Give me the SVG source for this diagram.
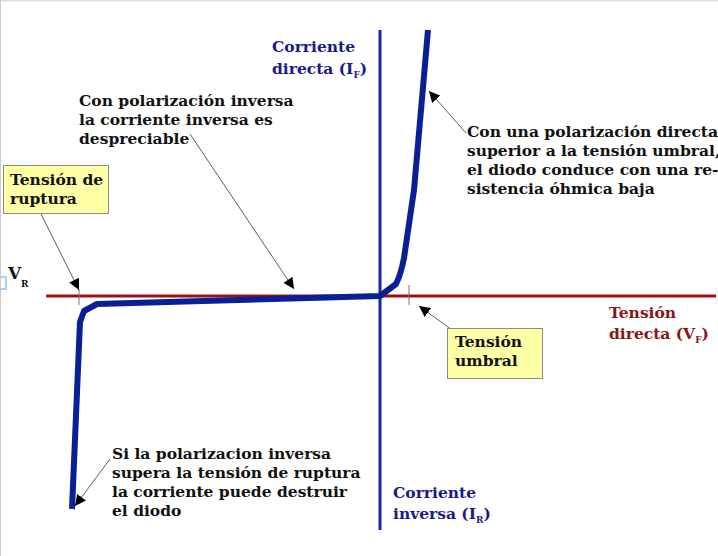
<svg xmlns="http://www.w3.org/2000/svg" width="718" height="556" viewBox="0 0 718 556">
<defs>
<style>
text{font-family:"DejaVu Serif","Liberation Serif",serif;font-weight:bold;font-size:15.5px}
.blk{fill:#111}
.blu{fill:#1a1a8c}
.red{fill:#8a1515}
.sub{font-size:9px}
.box{fill:#ffffa6;stroke:#8a8a8a;stroke-width:1}
.ptr{stroke:#333;stroke-width:0.8;fill:none;marker-end:url(#ah)}
.tick{stroke:#777;stroke-width:1}
</style>
<marker id="ah" viewBox="0 0 10 10" refX="10" refY="5" markerWidth="11" markerHeight="11" markerUnits="userSpaceOnUse" orient="auto">
<path d="M0,0 L10,5 L0,10 z" fill="#000"/>
</marker>
</defs>
<rect x="0" y="0" width="718" height="556" fill="#fff"/>
<line x1="0" y1="0.5" x2="718" y2="0.5" stroke="#ddd" stroke-width="2"/>
<line x1="0.5" y1="0" x2="0.5" y2="556" stroke="#ccc" stroke-width="1"/>
<rect x="-2" y="277" width="8" height="12" fill="none" stroke="#8fc0ee" stroke-width="1.5"/>

<g id="axes">
<line x1="46" y1="296" x2="716" y2="296" stroke="#9a1212" stroke-width="3"/>
<line x1="380" y1="30" x2="380" y2="530" stroke="#1428a0" stroke-width="3"/>
<line class="tick" x1="79" y1="289" x2="79" y2="305"/>
<line class="tick" x1="409" y1="285" x2="409" y2="305"/>
</g>

<g id="curve">
<path d="M72,509 L80,322 L84,311 L97,304 L380,296 L396,284 Q401,274 404,258 L414,190 L428,30" fill="none" stroke="#0a1f96" stroke-width="6" stroke-linejoin="round"/>
</g>

<g id="connectors">
<line class="ptr" x1="41" y1="214" x2="79" y2="290"/>
<line class="ptr" x1="190" y1="134" x2="294" y2="289"/>
<line class="ptr" x1="466" y1="133" x2="429" y2="91"/>
<line class="ptr" x1="452" y1="330" x2="419" y2="306"/>
<line class="ptr" x1="110" y1="459" x2="75" y2="506"/>
</g>

<g id="label-if">
<text class="blu" x="272" y="52">Corriente</text>
<text class="blu" x="272" y="74">directa (I<tspan class="sub" dy="4">F</tspan><tspan dy="-4">)</tspan></text>
</g>

<g id="label-ir">
<text class="blu" x="393" y="498">Corriente</text>
<text class="blu" x="393" y="519">inversa (I<tspan class="sub" dy="4">R</tspan><tspan dy="-4">)</tspan></text>
</g>

<g id="label-vf">
<text class="red" x="609" y="318">Tensión</text>
<text class="red" x="609" y="339">directa (V<tspan class="sub" dy="4">F</tspan><tspan dy="-4">)</tspan></text>
</g>

<g id="label-vr">
<text class="blk" x="8" y="279" style="font-size:17px">V</text>
<text class="blk sub" x="21" y="287">R</text>
</g>

<g id="note-inversa">
<text class="blk" x="79" y="106">Con polarización inversa</text>
<text class="blk" x="79" y="125">la corriente inversa es</text>
<text class="blk" x="79" y="144">despreciable</text>
</g>

<g id="note-directa">
<text class="blk" x="467" y="137">Con una polarización directa</text>
<text class="blk" x="467" y="156">superior a la tensión umbral,</text>
<text class="blk" x="467" y="175">el diodo conduce con una re-</text>
<text class="blk" x="467" y="194">sistencia óhmica baja</text>
</g>

<g id="note-ruptura">
<text class="blk" x="112" y="459">Si la polarizacion inversa</text>
<text class="blk" x="112" y="478">supera la tensión de ruptura</text>
<text class="blk" x="112" y="497">la corriente puede destruir</text>
<text class="blk" x="112" y="516">el diodo</text>
</g>

<g id="box-ruptura">
<rect class="box" x="3.5" y="165.5" width="105" height="48"/>
<text class="blk" x="10" y="185">Tensión de</text>
<text class="blk" x="10" y="204">ruptura</text>
</g>

<g id="box-umbral">
<rect class="box" x="447.5" y="328.5" width="95" height="50"/>
<text class="blk" x="455" y="347">Tensión</text>
<text class="blk" x="455" y="366">umbral</text>
</g>
</svg>
